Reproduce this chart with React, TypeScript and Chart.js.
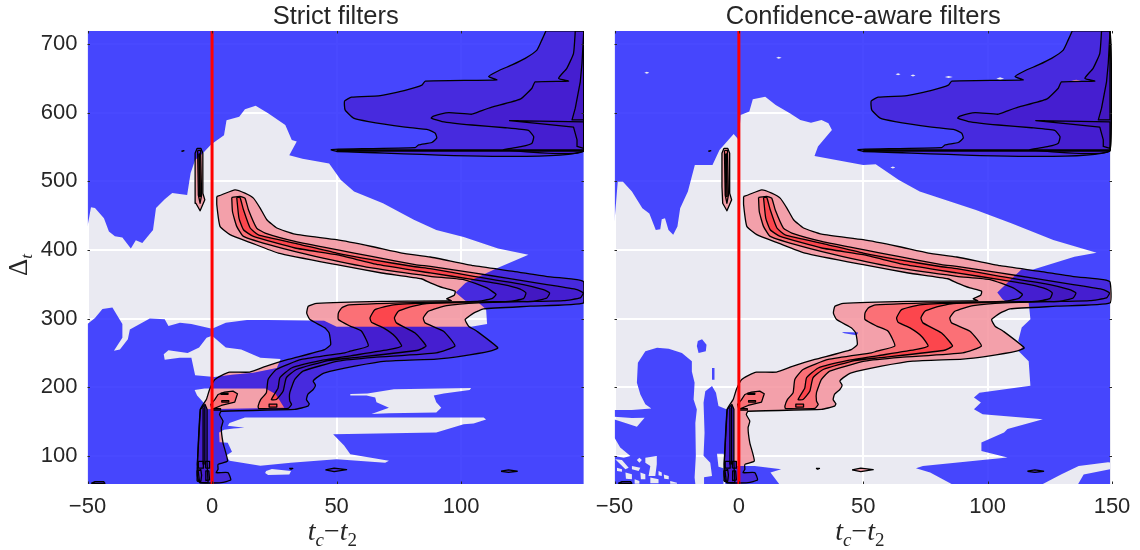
import React, { useEffect, useRef } from "react";
import { Chart, registerables } from "chart.js";

type Pt = [number, number];

const panelTitles = ["Strict filters", "Confidence-aware filters"];
const xTicksLeft = [-50, 0, 50, 100];
const xTicksRight = [-50, 0, 50, 100, 150];
const yTicks = [100, 200, 300, 400, 500, 600, 700];
const xLimLeft: Pt = [-50, 149.3];
const xLimRight: Pt = [-50, 150];
const yLim: Pt = [59, 719];
const dataRect: Pt[] = [[-50, 59], [149.2, 59], [149.2, 719], [-50, 719]];
const redLine: Pt[] = [[0, 59], [0, 719]];

// ---- contour levels shared by both panels
const contourOuter: Pt[] = [[1.9,478],[3.9,480.4],[9.2,487.6],[13.2,482.8],[16.6,475.5],[19.3,461],[22,444],[26,431.9],[33.3,423],[50,414.9],[64.1,405],[76.2,395.5],[87.6,389.7],[105,377],[121,368.9],[134,361.6],[146.5,356.8],[149.2,353.4],[149.2,322.8],[127.7,318],[109,314],[105,308],[101.6,298.6],[103,288.9],[106.3,281.6],[114.7,257.4],[111.6,252.5],[99.6,245],[90,241],[70,238],[57.3,230.7],[45.2,221],[42,214],[40.6,208.8],[41.5,203],[40.6,196.7],[38.5,190],[37.9,182],[39,176],[38.5,172.5],[33.2,167.6],[3.7,165],[3,160],[4.4,150.6],[3.7,141],[4.4,119],[6.2,92.5],[2.4,87.6],[2.4,80.4],[1.7,75.5],[6.4,75.5],[7.5,65],[3.7,61],[-5,61],[-5.9,70.7],[-5.9,88],[-4.7,167.6],[-2.3,182],[-1,196.7],[1.07,211],[3.7,217],[7.1,222],[15.1,222],[21.8,230.7],[30.5,240.4],[45.2,254.9],[47.6,262],[47,279],[45.3,286.4],[39.3,298.6],[38,308],[38.6,318],[42,322],[68,325],[96,326],[94.2,329],[97.2,334],[97.6,339.8],[92.9,344.6],[87.6,352],[84,358],[68.1,366.4],[50,378.5],[26.6,395.5],[15.9,410],[7.2,422.2],[3.2,434.3],[1.9,465.8]];
const contourMiddle: Pt[] = [[7.9,476.5],[11.2,478],[13.2,475.5],[14.6,458.5],[17.9,431.9],[21.3,424.6],[33.3,412.5],[50,400.4],[64.1,390.6],[81.5,378.5],[87.6,376],[105,366.5],[118.3,359],[134.4,349.5],[146.5,342.2],[149,337.4],[147.8,330],[141,326],[129.7,325],[107,323],[94.2,319],[86.8,310.7],[84.8,301],[85.5,293.7],[92.9,281.6],[97.5,260],[90,250],[65,243.5],[50.6,238],[36.5,223.4],[33.2,211.3],[31.2,192],[31.2,179.7],[31.9,175],[30.5,169],[18.7,169],[18.5,172.5],[19.5,182],[21.8,192],[22.5,211.3],[25.8,225.8],[35.9,240.4],[53.3,250],[55.4,252.5],[62.7,260],[60,281.6],[55.4,289],[50.7,298.6],[50.7,308],[52,315.5],[55,320],[87.6,324],[106,325],[112.3,329],[114,335],[110.3,344.6],[101,356.8],[87.6,361.6],[64.1,373.7],[41.4,390.6],[25.3,405],[12.6,419.7],[9.9,434.3],[8.2,456]];
const contourInner: Pt[] = [[9.9,476.5],[11.2,476.5],[12.6,458.5],[15.3,431.9],[18.6,422],[34.7,408.6],[50,395.5],[64.1,385.8],[81.5,375.5],[87.6,372.8],[105,361.6],[125,349.5],[133,342],[135.5,337.4],[134.4,330],[129,325],[119.7,325],[87.6,322],[80.8,318],[74.8,310.7],[73.2,301],[74,293.7],[81.5,279],[85.9,260],[82.2,253.5],[56.7,243],[46.6,238.9],[33.9,225.8],[29.8,213.7],[28.5,194],[25.8,182],[23.8,182],[26.5,199],[27.2,213.7],[31.9,228],[43.9,239],[56,246],[71.4,255],[76.1,260],[73.5,274],[68.8,286.4],[64,294.7],[63.4,301],[65.4,313],[72.8,320],[87.6,322.8],[106,324],[119,325],[125,329],[126,337.4],[123.7,343],[117,349.5],[105,356.8],[87.6,366.5],[66.8,378.5],[50,393],[33.3,402.8],[16.6,419.7],[12.6,429.4],[10.8,446.4]];
const blobMiddle: Pt[] = [[1.07,182],[2.4,189.4],[5,192.8],[8.4,194.3],[10.2,190.4],[9.1,178.3],[3.7,173.4],[0,167.6],[-0.5,175]];
const blobRects: Pt[][] = [
  [[3.6,189.6],[6.4,189.6],[6.4,191.4],[3.6,191.4]],
  [[3.9,178.4],[6.7,178.4],[6.7,180.4],[3.9,180.4]],
  [[0.2,166.6],[3.4,166.6],[3.4,168.8],[0.2,168.8]],
  [[22.9,171],[26,171],[26,175.5],[22.9,175.5]],
];
const spikeOuter: Pt[] = [[-6,548],[-4.5,548],[-3.7,541],[-3.7,482.5],[-2.9,473],[-4.8,457],[-6.5,468],[-6.8,492],[-6.8,541]];
const spikeMiddle: Pt[] = [[-5.8,545],[-4.6,545],[-4.2,480],[-4.8,468],[-5.5,480]];
const spikeInner: Pt[] = [[-5.3,540],[-4.9,540],[-4.7,478],[-5.2,478]];
const stripDark: Pt[] = [[-5,61],[-5.9,88],[-4.7,168],[-2.8,175],[-2,168],[-2,90],[-1.6,61]];
const stripLines: Pt[][] = [
  [[-3.6,170],[-3.6,88]],
  [[-2.9,172],[-2.9,88]],
];
const bottomBoxes: Pt[][] = [
  [[-6,63],[-6,78],[-4.5,80],[-4.2,72],[-4.5,63]],
  [[-2.7,64],[-2.5,78],[-1.3,78],[-1,65]],
  [[-5.5,82],[-5.5,92],[-3.5,92],[-3.5,82]],
  [[-2.6,82],[-2.6,92],[-1,92],[-1,82]],
];
const spindles: Pt[][] = [
  [[45.5,79.5],[49,82],[54,80],[49,77]],
  [[116,77.6],[119,79.5],[122.5,77.6],[119,76]],
  [[31,81.6],[32.4,81.6],[31.7,80.5]],
  [[-48.5,60],[-47,62.5],[-43.5,62.5],[-43,60]],
  [[-12.3,544],[-11.3,544.5],[-11.8,543.5]],
];
const topLevelOne: Pt[] = [[134,719],[132.4,706],[130.4,691],[125.7,679],[120.4,669.5],[115,661],[111,652.5],[114.3,647.7],[85.6,646],[84.2,640],[78.2,633],[72.2,628],[66.8,624.4],[56,622.5],[53.2,617],[53.4,604],[56.8,592],[62.8,587],[77.5,579],[86.9,575],[89.6,570],[90.2,563],[88.2,556.5],[82.9,553],[81.5,549],[50.8,546.8],[47.8,545.8],[50.1,543.4],[149.2,544.4],[149.2,719]];
const topLevelTwo: Pt[] = [[145.8,719],[145.1,686.5],[142.4,664.6],[139.1,650],[143.1,646],[129.7,644.8],[128.4,635.6],[123.7,619.6],[112.3,608],[108.3,603],[104.3,597.7],[95,600],[88.9,595],[88,592],[92.3,587],[104.3,582],[117.7,578],[127,574],[129.1,565],[128.4,555.5],[124.4,550.7],[117,545.8],[149.2,544.6],[149.2,719]];
const topLevelThree: Pt[] = [[149.2,718],[148.5,672],[147.8,645],[145.8,606.5],[144.5,589.5],[149.2,589.5]];
const topLevelFour: Pt[] = [[119.3,588.5],[149.2,586.5],[149.2,548],[146.5,550.7],[146.5,560.4],[145.1,579],[132.4,583.5]];
const bottomBundle: Pt[] = [[50,544.9],[149.2,544.9]];

// ---- light (no-data-cut) regions, strict panel
const strictLightMain: Pt[] = [[-50,434],[-48.6,462],[-47,461],[-43.4,446],[-41.4,427],[-39,420],[-36,418],[-32.6,402],[-30.6,414],[-28,410],[-23.7,429],[-22.5,461],[-19,474],[-16,483],[-10,480],[-8.6,512],[-6.8,531],[-3.7,541],[-0.3,554],[4.8,567],[5.8,589],[10.9,594],[13.2,605],[17.5,610],[22.5,599],[29.4,582],[32,560],[34,558],[31,538],[36.3,533],[47,526],[51.7,502],[57,485],[68.6,468],[81,444],[90,429],[101,419],[114.8,402],[127,393],[114.8,374],[101.7,352],[97.8,338],[101.7,326],[107,323],[110,313.6],[110.4,292],[104,288],[50,288],[45,297],[22,298],[14,298],[5.5,294],[0,285],[-8.3,292],[-12.9,294],[-17.5,289],[-19,299],[-25,300],[-33,284],[-33.8,270],[-37,255],[-39.4,253],[-36,272],[-36,292],[-40,316],[-44,314],[-47,301],[-50,292]];
const strictLightMid: Pt[] = [[-2.2,272],[0,275],[5.5,258],[11.7,255],[19.4,243],[27.5,241],[26,228],[16.6,221],[8,218],[1,215],[-6.8,217.5],[-8.3,243],[-13,243],[-19,240],[-19.4,248],[-17.5,254],[-9.8,250],[-5.2,258]];
const strictLightStrip: Pt[] = [[-7,196],[-3,198],[21.5,198],[25.5,190],[29,170],[-3,168],[-3,176],[-6,188]];
const strictLightLow: Pt[] = [[13.2,156],[109,156],[110,153],[105,147],[101,146],[90,134],[48.6,131.5],[53,115],[55.5,102.5],[71,93],[69.5,90],[50,95],[31.6,90],[19.4,85.5],[7,93],[5.5,100],[8,106],[6.3,119],[3,120],[2.8,134],[4.8,138],[8.6,140],[13,141],[6.3,144],[7,148]];
const strictLightHigh: Pt[] = [[55.5,190],[62.4,191],[73,197],[104,199],[103.4,196],[93,191],[89,188],[90,178],[92,170],[90,163],[71,162],[64,161],[71,170],[66,178],[65.5,185],[62,188],[55.5,188]];
const strictLightSmall: Pt[] = [[21.7,78],[24,81],[31.7,78],[31,73],[22.5,72],[21.3,75]];

// ---- light regions and blue islands, confidence-aware panel
const awareLightMain: Pt[] = [[-50,441],[-48.7,499.5],[-46.6,499.5],[-43,485],[-38.8,460.7],[-36,453],[-33.4,429],[-31.6,430],[-31,444.7],[-29.7,446],[-28.3,429],[-26.4,422],[-24.7,434],[-23.6,460.7],[-20.5,485],[-17.7,523.8],[-10.6,523.8],[-7.8,545.6],[-2.1,569],[0,560],[0.7,596.6],[4.2,601.5],[5.6,619.4],[10.6,623.3],[14.8,611],[20.5,599],[24.7,589.3],[29,585.4],[33.2,589.3],[36,584.5],[37.4,574.8],[31.8,550.5],[30.4,537],[50,523.8],[55,525],[64.3,502],[72.7,485],[95.3,458],[109.5,439],[126.4,414.6],[143.8,396],[134.9,390],[118,371],[113.7,372],[106.6,347.6],[103.9,338],[106,328],[108,323.3],[116.5,323.3],[117.2,299],[113.7,287],[112.3,267.5],[114.4,259],[112.3,253],[116.5,238],[117.2,202],[96.7,192],[94.5,185],[97.3,177.7],[94.5,168],[98,160.7],[122.2,153.4],[108,139],[106.6,134],[97.5,119.4],[97.5,107],[108,97.6],[74,85.4],[71.2,82],[76.9,75.7],[85.5,59],[-50,59]];
const awareLightWedge: Pt[] = [[122.2,59],[136.4,59],[138.6,73],[149.2,80.6],[149.2,91],[136.6,85.4],[129.5,73]];
const awareLightSpots: Pt[][] = [
  [[-38,658],[-37,659.5],[-36,658],[-37,656.5]],
  [[15,680],[16,681.5],[17.2,680],[16,678.5]],
  [[63,656],[64,657.5],[65,656],[64,654.5]],
  [[69,654],[70,655.5],[71,654],[70,652.5]],
  [[82.8,652],[84.3,653.5],[86,652],[84.3,650.5]],
  [[103.5,649.5],[105,651.5],[106.6,649.5],[105,648]],
  [[60.9,520],[61.9,521.5],[62.9,520],[61.9,518.5]],
];
const awarePinkSpot: Pt[] = [[133.6,646.5],[135.6,648],[137.6,646.5],[135.6,645.6]];
const awareBlueOne: Pt[] = [[-40.6,235.6],[-41,206.5],[-39.6,189.5],[-37.6,175],[-35.2,169],[-43,166.7],[-50,166.7],[-50,157],[-43,155],[-37.9,155.5],[-41,142.5],[-45.6,148],[-50,153],[-50,126.5],[-47.7,112],[-43.6,99.8],[-46.3,97.4],[-50,99.8],[-50,59],[-17.5,59],[-17.8,68.3],[-17.3,100],[-17.5,148],[-16.9,167.7],[-18.2,182],[-17.8,206.5],[-18.9,223],[-18.9,238],[-22.9,250],[-28.2,256],[-32.9,257.4],[-37.6,252.5]];
const awareBlueTwo: Pt[] = [[-13.5,194],[-10.8,201.6],[-9.2,192],[-8.2,172.5],[-4.8,167.7],[-4.8,90],[-6.2,103],[-8.8,103],[-8.2,84],[-6.2,82],[-6.2,59],[-14,59],[-14,69],[-10.8,70.7],[-11.5,90],[-14.2,100],[-13.8,133.7],[-14.2,177.3]];
const awareBlueThree: Pt[] = [[-16.9,260],[-16.5,267.5],[-14.8,270],[-13,262],[-13.3,252.5],[-16.2,250]];
const awareBlueFour: Pt[] = [[-10.8,228],[-9.8,228],[-9.8,211],[-10.8,211]];
const awareBlueFive: Pt[] = [[41.4,280.6],[48,279.6],[47.3,275.7],[42.4,278.6]];
const awareBlueSix: Pt[] = [[-4.8,85.4],[6.4,85.4],[17,80.6],[12.7,75.7],[16.2,59],[-5.5,59]];
const awareSpecks: Pt[][] = [
  [[-49.7,95],[-47,94],[-44.3,82.8],[-45.6,80.4]],
  [[-41,94],[-40,97.4],[-39,94],[-40,90]],
  [[-37.6,97.4],[-33,99.8],[-33,87.7],[-33.6,70.7],[-36.3,70.7],[-35.6,85.2],[-37.6,90]],
  [[-43,85.2],[-39.6,82.8],[-40.3,78],[-43,80.4]],
  [[-32.3,78],[-31,75.6],[-31,70.7],[-32.3,71.7]],
  [[-30.2,73],[-28.2,70.7],[-28.2,65.9],[-30,66.8]],
  [[-45.6,75.6],[-43,73.1],[-43,65.9],[-45.4,66.8]],
  [[-39.6,75.6],[-37.6,73.1],[-37.6,65.9],[-39.4,65.9]],
  [[-35.6,68.3],[-32.3,65.9],[-32.3,60],[-35.6,60]],
  [[-27.6,63.4],[-24.9,61],[-24.9,59.5],[-27.6,59.5]],
  [[-49,82.8],[-47,80.4],[-47,77],[-49,78]],
  [[-41.9,65.9],[-40,63.4],[-40,59.5],[-41.9,59.5]],
];

const BLUE = "rgba(41,41,255,0.85)";
const LIGHT_BG = "#EAEAF2";
const PINK = ["rgba(245,147,158,0.85)", "rgba(251,103,109,0.85)", "rgba(252,62,71,0.85)"];
const PURPLE = ["rgb(71,42,222)", "rgb(69,30,208)", "rgb(67,24,194)"];
const TEXT = "#262626";
const SMOOTH = 0.15;

const zoneClip = {
  id: "zoneClip",
  beforeDatasetDraw(chart: any, args: any) {
    const zone: Pt[][] | undefined = chart.data.datasets[args.index].zone;
    if (!zone) return;
    const { ctx, scales } = chart;
    ctx.save();
    ctx.beginPath();
    for (const poly of zone) {
      poly.forEach(([x, y], i) => {
        const px = scales.x.getPixelForValue(x);
        const py = scales.y.getPixelForValue(y);
        if (i === 0) ctx.moveTo(px, py);
        else ctx.lineTo(px, py);
      });
      ctx.closePath();
    }
    ctx.clip("evenodd");
  },
  afterDatasetDraw(chart: any, args: any) {
    if (chart.data.datasets[args.index].zone) chart.ctx.restore();
  },
};
Chart.register(zoneClip, ...registerables);

const toPts = (p: Pt[]) => p.map(([x, y]) => ({ x, y }));

function fillSet(p: Pt[], color: string, zone?: Pt[][], tension = 0) {
  return { data: toPts(p), showLine: true, fill: "shape", backgroundColor: color, borderWidth: 0, pointRadius: 0, tension, zone };
}
function lineSet(p: Pt[], closed = true, width = 1.3, color = "#000", tension = 0) {
  return { data: toPts(closed ? [...p, p[0]] : p), showLine: true, fill: false, borderColor: color, borderWidth: width, pointRadius: 0, tension, borderJoinStyle: "round" };
}

function buildDatasets(zone: Pt[][], extraBelowLines: any[]) {
  const ordered: any[] = [];
  ordered.push(fillSet(dataRect, BLUE, zone));
  const banded: [Pt[], number, number][] = [
    [contourOuter, 0, SMOOTH], [contourMiddle, 1, SMOOTH], [contourInner, 2, SMOOTH],
    [blobMiddle, 1, 0],
    [spikeOuter, 0, 0], [spikeMiddle, 1, 0], [spikeInner, 2, 0],
    ...blobRects.map((r): [Pt[], number, number] => [r, 2, 0]),
    ...spindles.map((r): [Pt[], number, number] => [r, 0, 0]),
  ];
  for (const [poly, lvl, t] of banded) {
    ordered.push(fillSet(poly, PINK[lvl], undefined, t));
    ordered.push(fillSet(poly, PURPLE[lvl], zone, t));
  }
  ordered.push(fillSet(stripDark, PURPLE[1]));
  bottomBoxes.forEach((b) => ordered.push(fillSet(b, PURPLE[1])));
  ordered.push(fillSet(topLevelOne, PURPLE[0], undefined, SMOOTH));
  ordered.push(fillSet(topLevelTwo, PURPLE[1], undefined, SMOOTH));
  ordered.push(fillSet(topLevelThree, PURPLE[2]));
  ordered.push(fillSet(topLevelFour, PURPLE[2]));
  extraBelowLines.forEach((d) => ordered.push(d));
  for (const p of [contourOuter, contourMiddle, contourInner, topLevelOne, topLevelTwo]) {
    ordered.push(lineSet(p, true, 1.3, "#000", SMOOTH));
  }
  for (const p of [blobMiddle, spikeOuter, spikeMiddle, spikeInner, stripDark, topLevelThree, topLevelFour, ...blobRects, ...spindles, ...bottomBoxes]) {
    ordered.push(lineSet(p));
  }
  stripLines.forEach((l) => ordered.push(lineSet(l, false)));
  ordered.push(lineSet(bottomBundle, false, 2.4));
  ordered.push(lineSet(redLine, false, 3, "#ff0000"));
  return ordered.map((d, i) => ({ ...d, order: ordered.length - i }));
}

function drawRuns(ctx: CanvasRenderingContext2D, runs: [string, string, number][], start: number, base: number) {
  let x = start;
  for (const [text, font, dy] of runs) {
    ctx.font = font;
    ctx.fillText(text, x, base + dy);
    x += ctx.measureText(text).width;
  }
  return x;
}

const axisText = {
  id: "axisText",
  beforeDraw(chart: any) {
    const { ctx, chartArea: a } = chart;
    ctx.save();
    ctx.fillStyle = LIGHT_BG;
    ctx.fillRect(a.left, a.top, a.right - a.left, a.bottom - a.top);
    ctx.restore();
  },
  afterDraw(chart: any) {
    const { ctx, chartArea: a, scales } = chart;
    ctx.save();
    ctx.strokeStyle = TEXT;
    ctx.lineWidth = 1;
    ctx.beginPath();
    const xt = chart.options.scales.x.tickValues as number[];
    for (const v of xt) {
      const p = Math.round(scales.x.getPixelForValue(v)) + 0.5;
      ctx.moveTo(p, a.top); ctx.lineTo(p, a.top + 2.5);
      ctx.moveTo(p, a.bottom); ctx.lineTo(p, a.bottom - 2.5);
    }
    for (const v of yTicks) {
      const p = Math.round(scales.y.getPixelForValue(v)) + 0.5;
      ctx.moveTo(a.left, p); ctx.lineTo(a.left + 2.5, p);
      ctx.moveTo(a.right, p); ctx.lineTo(a.right - 2.5, p);
    }
    ctx.stroke();

    ctx.fillStyle = TEXT;
    ctx.textBaseline = "alphabetic";
    ctx.textAlign = "left";
    const it = "italic 28px 'Liberation Serif'";
    const itS = "italic 19px 'Liberation Serif'";
    const re = "28px 'Liberation Serif'";
    const reS = "19px 'Liberation Serif'";
    const cx = (a.left + a.right) / 2;
    drawRuns(ctx, [["t", it, 0], ["c", itS, 6], ["\u2212", re, 0], ["t", it, 0], ["2", reS, 6]], cx - 28, 540);
    if (chart.options.showDelta) {
      ctx.translate(27, 276);
      ctx.rotate(-Math.PI / 2);
      drawRuns(ctx, [["\u0394", "27px 'Liberation Serif'", 0], ["t", "italic 17px 'Liberation Serif'", 5]], 0, 0);
    }
    ctx.restore();
  },
};

function makeConfig(title: string, lim: Pt, xt: number[], yWidth: number, right: number, showY: boolean, data: any[]) {
  const tickFont = { family: "'Liberation Sans'", size: 22 };
  return {
    type: "scatter",
    data: { datasets: data },
    plugins: [axisText],
    options: {
      animation: false,
      responsive: false,
      devicePixelRatio: 1,
      events: [],
      showDelta: showY,
      layout: { padding: { left: 0, right, top: 0, bottom: 0 } },
      plugins: {
        legend: { display: false },
        tooltip: { enabled: false },
        title: {
          display: true,
          text: title,
          fullSize: false,
          color: TEXT,
          font: { family: "'Liberation Sans'", size: 25.5, weight: "normal", lineHeight: 1.12 },
          padding: { top: 2.4, bottom: 0 },
        },
      },
      scales: {
        x: {
          type: "linear",
          min: lim[0],
          max: lim[1],
          tickValues: xt,
          border: { display: false },
          grid: { color: "#ffffff", lineWidth: 2, drawTicks: false },
          ticks: {
            autoSkip: false,
            maxRotation: 0,
            padding: 10,
            color: TEXT,
            font: tickFont,
            callback: (v: number) => (v < 0 ? "\u2212" + Math.abs(v) : String(v)),
          },
          afterBuildTicks: (s: any) => { s.ticks = xt.map((value) => ({ value })); },
          afterFit: (s: any) => { s.height = 66; s.paddingLeft = 0; s.paddingRight = 0; },
        },
        y: {
          type: "linear",
          min: yLim[0],
          max: yLim[1],
          border: { display: false },
          grid: { color: "#ffffff", lineWidth: 2, drawTicks: false },
          ticks: {
            display: showY,
            autoSkip: false,
            padding: 10,
            color: TEXT,
            font: tickFont,
          },
          afterBuildTicks: (s: any) => { s.ticks = yTicks.map((value) => ({ value })); },
          afterFit: (s: any) => { s.width = yWidth; s.paddingTop = 0; s.paddingBottom = 0; },
        },
      },
    },
  } as any;
}

export default function App() {
  const leftRef = useRef<HTMLCanvasElement>(null);
  const rightRef = useRef<HTMLCanvasElement>(null);
  useEffect(() => {
    const strictZone: Pt[][] = [dataRect, strictLightMain, strictLightMid, strictLightStrip, strictLightLow, strictLightHigh, strictLightSmall];
    const awareZone: Pt[][] = [dataRect, awareLightMain, awareLightWedge, ...awareLightSpots, awareBlueOne, awareBlueTwo, awareBlueThree, awareBlueFour, awareBlueFive, awareBlueSix, ...awareSpecks];
    const c1 = new Chart(leftRef.current!, makeConfig(panelTitles[0], xLimLeft, xTicksLeft, 87.5, 16, true, buildDatasets(strictZone, [])));
    const c2 = new Chart(rightRef.current!, makeConfig(panelTitles[1], xLimRight, xTicksRight, 29.5, 28, false, buildDatasets(awareZone, [fillSet(awarePinkSpot, PINK[0])])));
    return () => { c1.destroy(); c2.destroy(); };
  }, []);
  return (
    <div style={{ position: "absolute", left: 0, top: 0, width: 1140, height: 550 }}>
      <canvas ref={leftRef} width={600} height={550} style={{ position: "absolute", left: 0, top: 0 }} />
      <canvas ref={rightRef} width={555} height={550} style={{ position: "absolute", left: 585, top: 0 }} />
    </div>
  );
}
